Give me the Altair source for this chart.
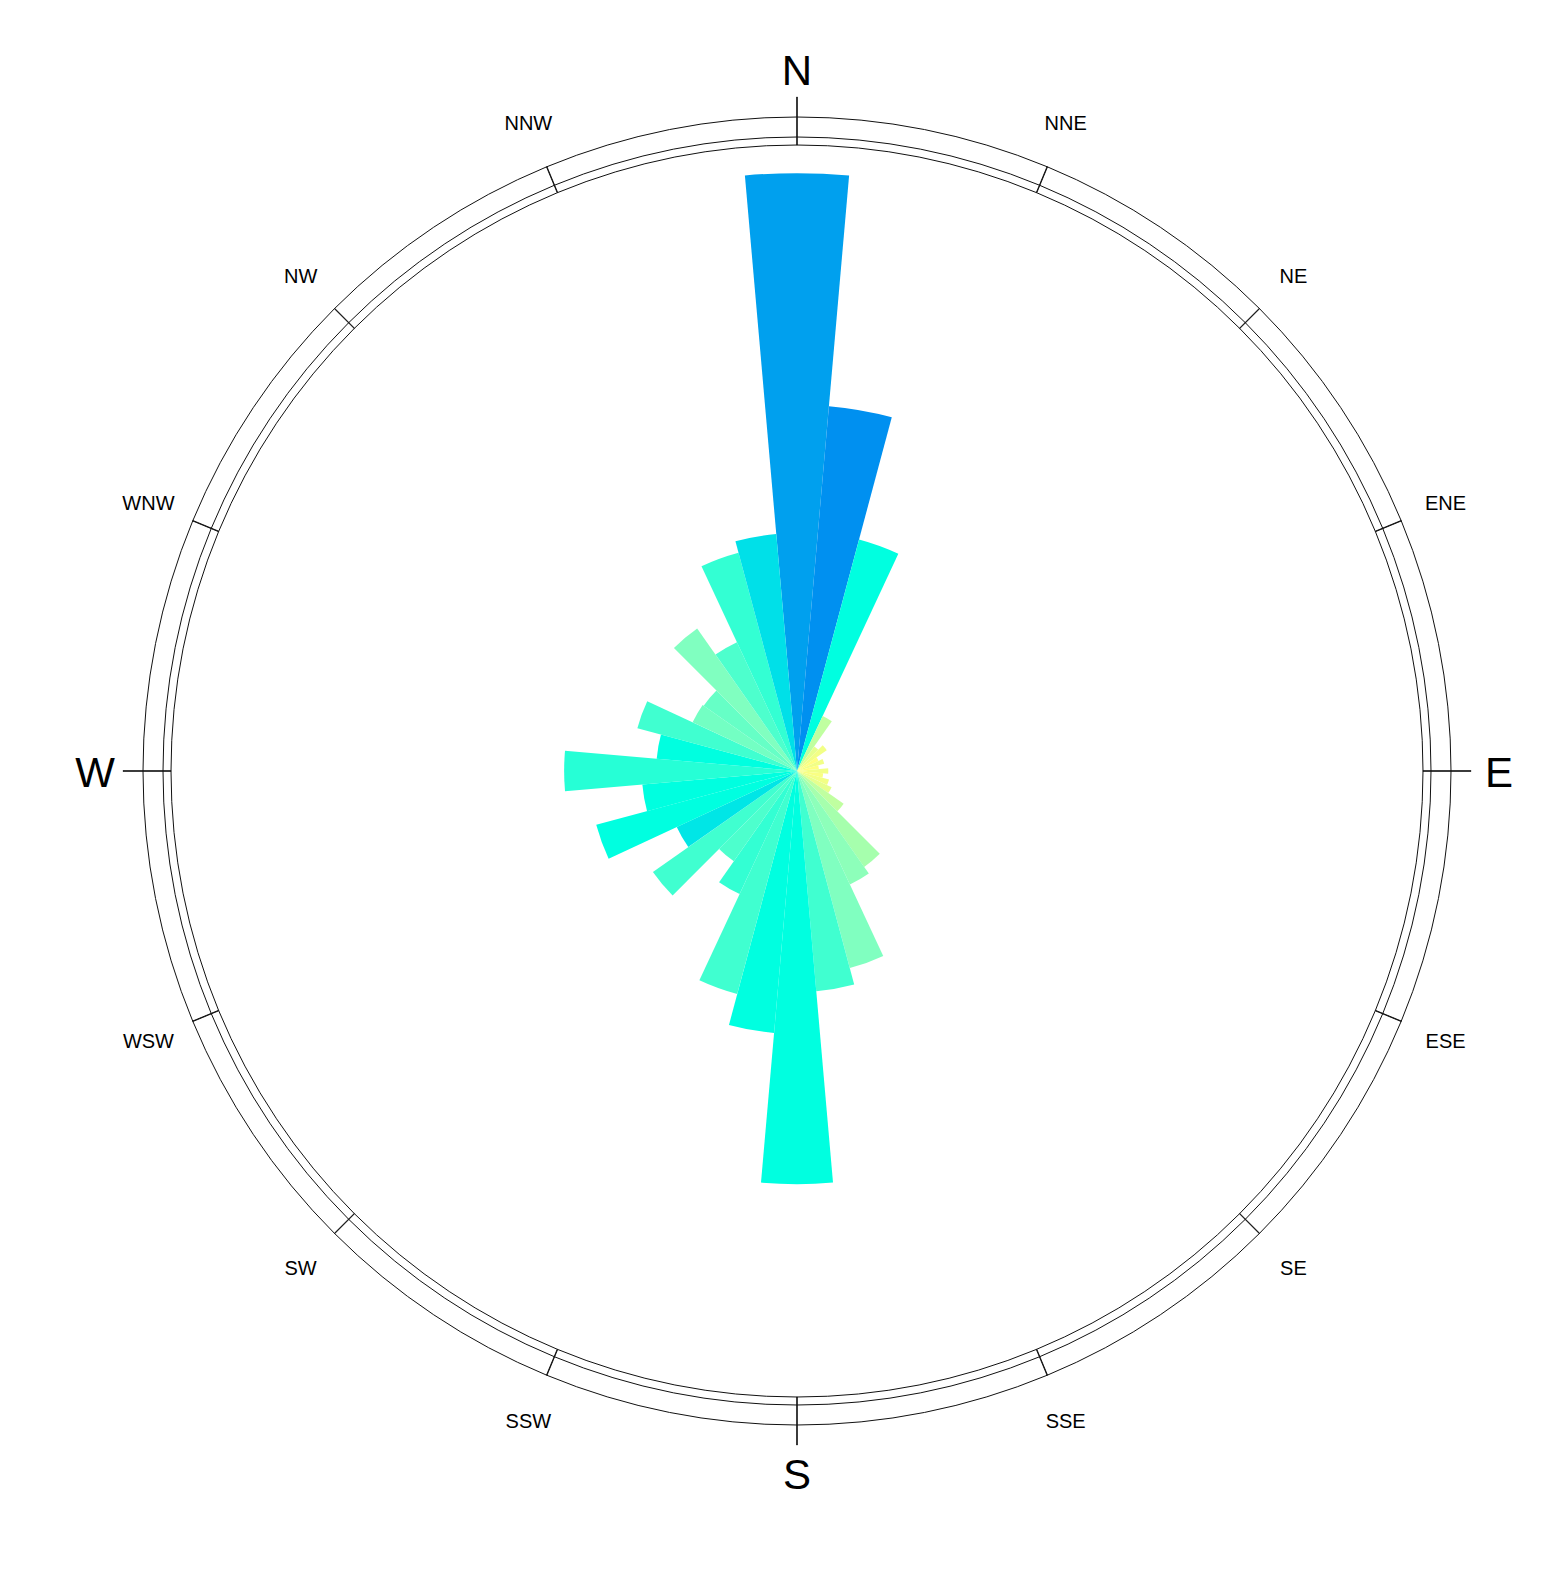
import math
import altair as alt
import pandas as pd

# ---- data -------------------------------------------------------------
DIRECTIONS = list(range(0, 360, 10))          # bin centres, degrees
FREQ = [9.55, 5.85, 3.83, 0.97, 0.48, 0.58, 0.38, 0.45, 0.35, 0.50,
        0.42, 0.53, 0.61, 0.91, 1.87, 2.00, 3.26, 3.53, 6.60, 4.20,
        3.69, 2.17, 1.76, 2.81, 2.12, 3.32, 2.48, 3.72, 2.25, 2.64,
        1.84, 1.82, 2.78, 2.27, 3.61, 3.80]     # frequency, %
SPEED = [3.80, 4.00, 2.00, 0.50, 0.20, 0.10, 0.00, 0.10, 0.00, 0.10,
         0.05, 0.10, 0.20, 0.50, 0.70, 0.90, 1.00, 1.50, 2.00, 2.00,
         1.50, 1.60, 1.40, 1.50, 2.80, 2.00, 2.00, 1.70, 2.00, 1.50,
         1.10, 1.20, 1.00, 1.40, 1.60, 3.00]    # mean speed (colour)
COMPASS = ["N", "NNE", "NE", "ENE", "E", "ESE", "SE", "SSE",
           "S", "SSW", "SW", "WSW", "W", "WNW", "NW", "NNW"]
COMPASS_DEG = [i * 22.5 for i in range(16)]
CARDINAL = [n in ("N", "E", "S", "W") for n in COMPASS]

# ---- layout / style constants ------------------------------------------
CX, CY = 789, 763
R_IN = 626
RINGS_PX = [626, 634, 654]
FONT = "Liberation Sans"
SPEED_STOPS = [0, 1, 2, 3, 4]
SPEED_COLORS = ["#ffff80", "#80ffc0", "#00ffe0", "#00e0e8", "#0090f0"]

bars_df = pd.DataFrame({"dir": DIRECTIONS, "freq": FREQ, "speed": SPEED})
comp_df = pd.DataFrame({"name": COMPASS, "deg": COMPASS_DEG, "cardinal": CARDINAL})
rings_df = pd.DataFrame({"r": RINGS_PX})

center = dict(x=alt.value(CX), y=alt.value(CY))

bars = alt.Chart(bars_df).transform_calculate(
    t0="(datum.dir - 5) * PI / 180",
    t1="(datum.dir + 5) * PI / 180",
).mark_arc(strokeWidth=0).encode(
    theta=alt.Theta("t0:Q", scale=None, stack=False),
    theta2="t1:Q",
    radius=alt.Radius("freq:Q", stack=False,
                      scale=alt.Scale(type="linear", domain=[0, 10], range=[0, R_IN])),
    color=alt.Color("speed:Q", scale=alt.Scale(domain=SPEED_STOPS, range=SPEED_COLORS,
                                               interpolate="rgb"), legend=None),
    **center,
)

rings = alt.Chart(rings_df).transform_calculate(
    t0="0", t1="2 * PI"
).mark_arc(filled=False, stroke="#111111", strokeWidth=1).encode(
    theta=alt.Theta("t0:Q", scale=None, stack=False),
    theta2="t1:Q",
    radius=alt.Radius("r:Q", scale=None, stack=False),
    **center,
)

ticks = alt.Chart(comp_df).transform_calculate(
    t0="datum.deg * PI / 180 - 0.0004",
    t1="datum.deg * PI / 180 + 0.0004",
    r2="datum.cardinal ? 674 : 654",
).mark_arc(fill="#111111", stroke="#111111", strokeWidth=0.9).encode(
    theta=alt.Theta("t0:Q", scale=None, stack=False),
    theta2="t1:Q",
    radius=alt.Radius("r2:Q", scale=None, stack=False),
    radius2=alt.value(R_IN),
    **center,
)

minor_labels = alt.Chart(comp_df).transform_filter("!datum.cardinal").transform_calculate(
    th="datum.deg * PI / 180"
).mark_text(font=FONT, fontSize=20, align="center", baseline="middle", color="black",
            dy=2).encode(
    theta=alt.Theta("th:Q", scale=None, stack=False),
    radius=alt.value(702),
    text="name:N",
    **center,
)

major_labels = alt.Chart(comp_df).transform_filter("datum.cardinal").transform_calculate(
    th="datum.deg * PI / 180"
).mark_text(font=FONT, fontSize=42, align="center", baseline="middle", color="black",
            dy=2.5).encode(
    theta=alt.Theta("th:Q", scale=None, stack=False),
    radius=alt.value(702),
    text="name:N",
    **center,
)

chart = alt.layer(bars, rings, ticks, minor_labels, major_labels).properties(
    width=1525, height=1558, autosize=alt.AutoSizeParams(type="none"), padding=0,
    background="white",
).configure_view(strokeWidth=0)

chart.save("out.html", embed_options={"renderer": "svg", "actions": False})
